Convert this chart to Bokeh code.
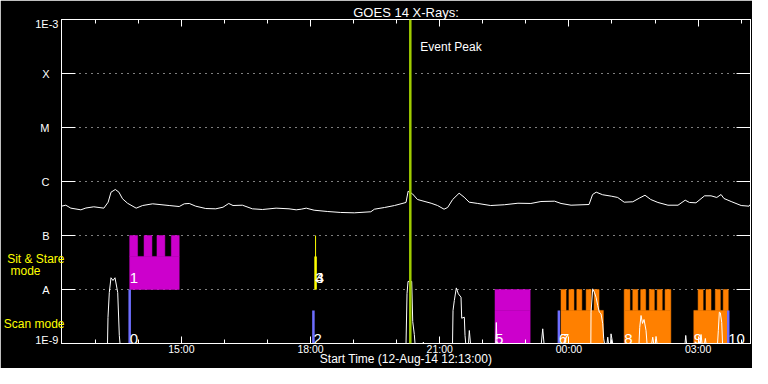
import pandas as pd
from bokeh.plotting import figure
from bokeh.models import (Range1d, FixedTicker, CustomJSTickFormatter, DatetimeTickFormatter,
                          DatetimeAxis, LogAxis, Span, Label, ColumnDataSource)
from bokeh.core.properties import value
from bokeh.embed import file_html
from bokeh.resources import INLINE

# ---------------- data ----------------
START = "12 12:13:00"
END = "13 04:13:00"
EVENT_PEAK = "12 20:19"

y_levels = [1e-9, 1e-8, 1e-7, 1e-6, 1e-5, 1e-4, 1e-3]
y_labels = ["1E-9", "A", "B", "C", "M", "X", "1E-3"]
# the two end labels sit just inside the frame
end_label_y = [1.14e-9, 8.43e-4]

x_major = ["12 15:00", "12 18:00", "12 21:00", "13 00:00", "13 03:00"]
x_minor = ["12 13:00", "12 14:00", "12 16:00", "12 17:00", "12 19:00", "12 20:00",
           "12 22:00", "12 23:00", "13 01:00", "13 02:00", "13 04:00"]

# mode captions on the left
mode_text = ["Scan mode", "Sit & Stare"]
mode_y = [2.28e-9, 3.64e-8]
mode_sub_text = ["mode"]
mode_sub_y = [2.18e-8]

goes_time = ["12 12:13", "12 12:19", "12 12:26", "12 12:40", "12 12:47", "12 12:58", "12 13:12",
             "12 13:18", "12 13:22", "12 13:28", "12 13:33", "12 13:38", "12 13:45", "12 13:57",
             "12 14:06", "12 14:20", "12 14:43", "12 14:57", "12 15:04", "12 15:11", "12 15:20",
             "12 15:34", "12 15:48", "12 15:58", "12 16:06", "12 16:12", "12 16:25", "12 16:39",
             "12 16:53", "12 17:12", "12 17:30", "12 17:40", "12 17:47", "12 17:54", "12 18:05",
             "12 18:24", "12 18:42", "12 19:01", "12 19:24", "12 19:29", "12 19:43", "12 19:57",
             "12 20:13", "12 20:16", "12 20:22", "12 20:29", "12 20:48", "12 20:57", "12 21:06",
             "12 21:11", "12 21:18", "12 21:27", "12 21:34", "12 21:41", "12 21:53", "12 22:11",
             "12 22:30", "12 22:49", "12 23:07", "12 23:21", "12 23:40", "12 23:49", "13 00:03",
             "13 00:28", "13 00:33", "13 00:38", "13 00:47", "13 00:59", "13 01:08", "13 01:17",
             "13 01:29", "13 01:38", "13 01:46", "13 01:54", "13 02:04", "13 02:18", "13 02:32",
             "13 02:42", "13 02:48", "13 02:57", "13 03:09", "13 03:18", "13 03:26", "13 03:32",
             "13 03:36", "13 03:46", "13 04:00", "13 04:11", "13 04:13"]
goes_flux = [3.49e-7, 3.64e-7, 3.21e-7, 2.99e-7, 3.23e-7, 3.40e-7, 3.21e-7,
             4.14e-7, 6.34e-7, 7.11e-7, 6.34e-7, 4.79e-7, 3.96e-7, 3.21e-7,
             3.59e-7, 3.86e-7, 3.59e-7, 3.44e-7, 3.86e-7, 3.92e-7, 3.49e-7,
             3.16e-7, 3.12e-7, 3.34e-7, 3.92e-7, 3.59e-7, 3.64e-7, 3.12e-7,
             3.03e-7, 3.21e-7, 3.12e-7, 2.99e-7, 3.07e-7, 3.21e-7, 2.94e-7,
             2.78e-7, 2.67e-7, 2.63e-7, 2.75e-7, 3.07e-7, 3.30e-7, 3.59e-7,
             4.09e-7, 6.61e-7, 5.91e-7, 4.64e-7, 3.96e-7, 3.59e-7, 3.07e-7,
             3.30e-7, 4.64e-7, 6.07e-7, 5.12e-7, 4.14e-7, 3.92e-7, 3.59e-7,
             3.71e-7, 3.96e-7, 3.92e-7, 4.26e-7, 4.32e-7, 3.92e-7, 3.64e-7,
             3.75e-7, 5.74e-7, 6.34e-7, 5.68e-7, 5.35e-7, 5.06e-7, 4.14e-7,
             4.21e-7, 4.91e-7, 5.57e-7, 4.64e-7, 4.09e-7, 3.64e-7, 3.64e-7,
             4.51e-7, 4.09e-7, 4.03e-7, 5.43e-7, 5.43e-7, 5.06e-7, 5.74e-7,
             4.85e-7, 4.26e-7, 3.59e-7, 3.49e-7, 3.80e-7]

low_time = ["12 12:13:00", "12 13:17:06", "12 13:17:47", "12 13:19:36", "12 13:21:58", "12 13:24:46",
            "12 13:27:33", "12 13:31:19", "12 13:33:32", "12 13:34:31",
            "12 20:13:02", "12 20:14:25", "12 20:15:49", "12 20:20:58", "12 20:22:22", "12 20:24:35",
            "12 20:25:34",
            "12 20:36:43", "12 20:37:08", "12 20:38:07",
            "12 21:17:49", "12 21:18:31", "12 21:20:20", "12 21:23:07", "12 21:25:54", "12 21:29:40",
            "12 21:30:38", "12 21:34:16", "12 21:35:14", "12 21:36:13",
            "12 21:40:07", "12 21:41:14", "12 21:42:54",
            "12 22:18:01", "12 22:18:51", "12 22:19:50",
            "12 23:21:33", "12 23:23:30", "12 23:25:19",
            "13 00:30:32", "13 00:30:49", "13 00:33:10", "13 00:35:24", "13 00:37:46", "13 00:40:08",
            "13 00:42:22", "13 00:44:44", "13 00:47:07", "13 00:48:30", "13 00:49:37",
            "13 00:53:06", "13 00:54:05", "13 00:55:11", "13 00:57:59", "13 00:58:40", "13 01:01:02",
            "13 01:37:41", "13 01:38:40", "13 01:40:29", "13 01:42:34", "13 01:44:40", "13 01:47:27",
            "13 01:48:50",
            "13 01:55:23", "13 01:56:47", "13 01:58:10", "13 02:00:24", "13 02:01:23", "13 02:02:46",
            "13 02:41:47", "13 02:42:46", "13 02:43:53",
            "13 03:03:23", "13 03:04:05", "13 03:05:28", "13 03:08:58", "13 03:10:04", "13 03:11:03",
            "13 03:27:04", "13 03:28:11", "13 03:29:35", "13 03:30:58", "13 03:32:55", "13 03:34:02",
            "13 04:13:00"]
low_flux = [1e-9, 1e-9, 3.03e-9, 8.80e-9, 1.65e-8, 1.47e-8,
            1.65e-8, 8.80e-9, 1.41e-9, 1e-9,
            1e-9, 8.43e-9, 1.41e-8, 1.41e-8, 2.55e-9, 1.47e-9,
            1e-9,
            1e-9, 1.06e-9, 1e-9,
            1e-9, 4.08e-9, 6.25e-9, 1.07e-8, 8.32e-9, 7.20e-9,
            2.94e-9, 3.07e-9, 1.41e-9, 1e-9,
            1e-9, 1.74e-9, 1e-9,
            1e-9, 2.45e-9, 1e-9,
            1e-9, 1.87e-9, 1e-9,
            1e-9, 3.80e-9, 1.03e-8, 8.91e-9, 7.20e-9, 5.06e-9,
            3.80e-9, 3.55e-9, 2.32e-9, 1.22e-9, 1e-9,
            1e-9, 1.31e-9, 1e-9, 1e-9, 1.51e-9, 1e-9,
            1e-9, 1.98e-9, 3.30e-9, 2.35e-9, 2.78e-9, 1.74e-9,
            1e-9,
            1e-9, 1.31e-9, 1e-9, 1e-9, 1.35e-9, 1e-9,
            1e-9, 1.41e-9, 1e-9,
            1e-9, 1.47e-9, 1e-9, 1e-9, 1.24e-9, 1e-9,
            1e-9, 1.74e-9, 3.80e-9, 3.70e-9, 2.45e-9, 1e-9,
            1e-9]

# observation bands: (low, base top, high)
band = {"scan": (1e-9, 4.1e-9, 1e-8), "sit": (1e-8, 4.1e-8, 1e-7)}

block_id = ["1", "5", "7", "8", "9"]
block_mode = ["sit", "scan", "scan", "scan", "scan"]
block_kind = ["magenta", "magenta", "orange", "orange", "orange"]
block_start = ["12 13:48", "12 22:17", "12 23:49", "13 01:17", "13 02:54"]
block_end = ["12 14:57", "12 23:06", "13 00:48", "13 02:22", "13 03:42"]
block_teeth = [
    [("12 13:48", "12 13:59"), ("12 14:08", "12 14:19"), ("12 14:26", "12 14:37"), ("12 14:46", "12 14:57")],
    [("12 22:17", "12 23:06")],
    [("12 23:49", "12 23:56"), ("13 00:00", "13 00:07"), ("13 00:11", "13 00:18"),
     ("13 00:24", "13 00:31"), ("13 00:35", "13 00:42")],
    [("13 01:17", "13 01:25"), ("13 01:29", "13 01:36"), ("13 01:40", "13 01:47"),
     ("13 01:52", "13 01:59"), ("13 02:03", "13 02:10"), ("13 02:14", "13 02:22")],
    [("13 03:00", "13 03:07"), ("13 03:11", "13 03:18"), ("13 03:24", "13 03:31"), ("13 03:35", "13 03:42")],
]

line_id = ["0", "2", "3", "4", "6", "10"]
line_mode = ["scan", "scan", "sit", "sit", "scan", "scan"]
line_kind = ["blue", "blue", "yellow", "yellow", "blue", "blue"]
line_time = ["12 13:48", "12 18:04", "12 18:07", "12 18:07", "12 23:46", "13 03:42"]
line_top = [1e-8, 4.1e-9, 4.1e-8, 1e-7, 4.1e-9, 4.1e-9]

lab_text = ["0", "1", "2", "3", "4", "5", "6", "7", "8", "9", "10"]
lab_time = ["12 13:48", "12 13:48", "12 18:04", "12 18:07", "12 18:07", "12 22:17",
            "12 23:46", "12 23:49", "13 01:17", "13 02:54", "13 03:42"]
lab_mode = ["scan", "sit", "scan", "sit", "sit", "scan", "scan", "scan", "scan", "scan", "scan"]
lab_level = {"scan": 1.2e-9, "sit": 1.6e-8}

# ---------------- styling ----------------
FONT = "Liberation Sans"
COLORS = {"magenta": "#cc00cc", "orange": "#ff8000", "blue": "#6e6eff", "yellow": "#ffff00"}
PEAK_COLOR = "#a0cc00"


def ms(s):
    return pd.Timestamp("2014-08-" + s).value / 1e6


p = figure(width=752, height=368, x_axis_type="datetime", y_axis_type="log",
           x_range=Range1d(ms(START), ms(END)), y_range=Range1d(y_levels[0], y_levels[-1]),
           output_backend="svg", toolbar_location=None,
           background_fill_color="black", border_fill_color="black",
           outline_line_color="white",
           min_border_left=60, min_border_right=2, min_border_top=19, min_border_bottom=25)

p.title.text = "GOES 14 X-Rays:"
p.title.align = "center"
p.title.text_color = "white"
p.title.text_font = FONT
p.title.text_font_size = "13px"
p.title.text_font_style = "normal"
p.title.text_line_height = 1.0
p.title.standoff = 0
p.title.offset = -3

xticker = FixedTicker(ticks=[ms(s) for s in x_major], minor_ticks=[ms(s) for s in x_minor])
yticker = FixedTicker(ticks=y_levels, minor_ticks=[])
xfmt = DatetimeTickFormatter(hours="%H:%M", hourmin="%H:%M", days="%H:%M",
                             minutes="%H:%M", minsec="%H:%M")
# class letters on the main axis; the two power-of-ten labels on their own axis
yfmt = CustomJSTickFormatter(args=dict(labels=y_labels),
                             code="const i = Math.round(Math.log10(tick)) + 9;"
                                  "return (i == 0 || i == labels.length - 1) ? '' : labels[i];")
blank = CustomJSTickFormatter(code="return '';")

xb = p.xaxis[0]
xb.ticker = xticker
xb.formatter = xfmt
yl = p.yaxis[0]
yl.ticker = yticker
yl.formatter = yfmt
xt = DatetimeAxis(ticker=xticker, formatter=blank)
p.add_layout(xt, "above")
yr = LogAxis(ticker=yticker, formatter=blank)
p.add_layout(yr, "right")

for ax in (xb, xt):
    ax.major_tick_in = 7
    ax.minor_tick_in = 4
for ax in (yl, yr):
    ax.major_tick_in = 14
    ax.minor_tick_in = 0
for ax in (xb, xt, yl, yr):
    ax.major_tick_out = 0
    ax.minor_tick_out = 0
    ax.axis_line_color = "white"
    ax.major_tick_line_color = "white"
    ax.minor_tick_line_color = "white"
    ax.major_label_text_color = "white"
    ax.major_label_text_font = FONT
    ax.major_label_text_font_size = "11px"
    ax.major_label_text_line_height = 1.0
for ax in (xt, yr):
    ax.major_label_standoff = 0
    ax.major_label_text_font_size = "0px"
yl.major_label_standoff = 12
xb.major_label_text_font_size = "10.5px"
xb.major_label_standoff = -1
xb.axis_label = "Start Time (12-Aug-14 12:13:00)"
xb.axis_label_text_color = "white"
xb.axis_label_text_font = FONT
xb.axis_label_text_font_size = "12px"
xb.axis_label_text_font_style = "normal"
xb.axis_label_text_line_height = 1.0
xb.axis_label_standoff = -6

# extra line-less left axes: power-of-ten labels, then the yellow mode captions
end_ax = LogAxis(ticker=FixedTicker(ticks=end_label_y, minor_ticks=[]),
                 formatter=CustomJSTickFormatter(args=dict(labels=[y_labels[0], y_labels[-1]]),
                                                 code="return labels[index];"))
cap_main = LogAxis(ticker=FixedTicker(ticks=mode_y, minor_ticks=[]),
                   formatter=CustomJSTickFormatter(args=dict(labels=mode_text),
                                                   code="return labels[index];"))
cap_sub = LogAxis(ticker=FixedTicker(ticks=mode_sub_y, minor_ticks=[]),
                  formatter=CustomJSTickFormatter(args=dict(labels=mode_sub_text),
                                                  code="return labels[index];"))
p.add_layout(end_ax, "left")
p.add_layout(cap_main, "left")
p.add_layout(cap_sub, "left")
for ax, so, col, fs in ((end_ax, -21, "white", "11px"), (cap_main, -32, "#ffff00", "12px"),
                        (cap_sub, -40, "#ffff00", "12px")):
    ax.axis_line_color = None
    ax.major_tick_line_color = None
    ax.minor_tick_line_color = None
    ax.major_tick_in = 0
    ax.major_tick_out = 0
    ax.minor_tick_in = 0
    ax.minor_tick_out = 0
    ax.major_label_standoff = so
    ax.major_label_text_color = col
    ax.major_label_text_font = FONT
    ax.major_label_text_font_size = fs
    ax.major_label_text_line_height = 1.0

p.xgrid.visible = False
p.ygrid.ticker = yticker
p.ygrid.grid_line_color = "white"
p.ygrid.grid_line_dash = "1 5"
p.ygrid.grid_line_width = 1

# ---------------- glyphs ----------------
q = dict(left=[], right=[], bottom=[], top=[], color=[])
for mode, kind, s, e, teeth in zip(block_mode, block_kind, block_start, block_end, block_teeth):
    lo, mid, hi = band[mode]
    q["left"].append(ms(s)); q["right"].append(ms(e))
    q["bottom"].append(lo); q["top"].append(mid); q["color"].append(COLORS[kind])
    for a, b in teeth:
        q["left"].append(ms(a)); q["right"].append(ms(b))
        q["bottom"].append(mid); q["top"].append(hi); q["color"].append(COLORS[kind])
p.quad(left="left", right="right", bottom="bottom", top="top", fill_color="color",
       line_color="color", line_width=0.5, source=ColumnDataSource(q))

p.line([ms(s) for s in goes_time], goes_flux, line_color="white", line_width=1)
p.line([ms(s) for s in low_time], low_flux, line_color="white", line_width=1)

thin = {"4"}
seg = dict(x=[ms(s) for s in line_time], y0=[band[m][0] for m in line_mode], y1=line_top,
           color=[COLORS[k] for k in line_kind],
           w=[1 if i in thin else 2.5 for i in line_id])
p.segment(x0="x", y0="y0", x1="x", y1="y1", line_color="color", line_width="w",
          source=ColumnDataSource(seg))

p.add_layout(Span(location=ms(EVENT_PEAK), dimension="height", line_color=PEAK_COLOR, line_width=2.5))

labs = dict(x=[ms(s) for s in lab_time], y=[lab_level[m] for m in lab_mode], text=lab_text)
p.text(x="x", y="y", text="text", source=ColumnDataSource(labs), text_color="white",
       text_font=value(FONT), text_font_size="15px", text_align="left",
       text_baseline="alphabetic", x_offset=0)

p.add_layout(Label(x=ms(EVENT_PEAK), y=3.1e-4, text="Event Peak", text_color="white",
                   text_font=FONT, text_font_size="12px", text_align="left",
                   text_baseline="alphabetic", x_offset=10))

open("out.html", "w").write(file_html(p, INLINE))
